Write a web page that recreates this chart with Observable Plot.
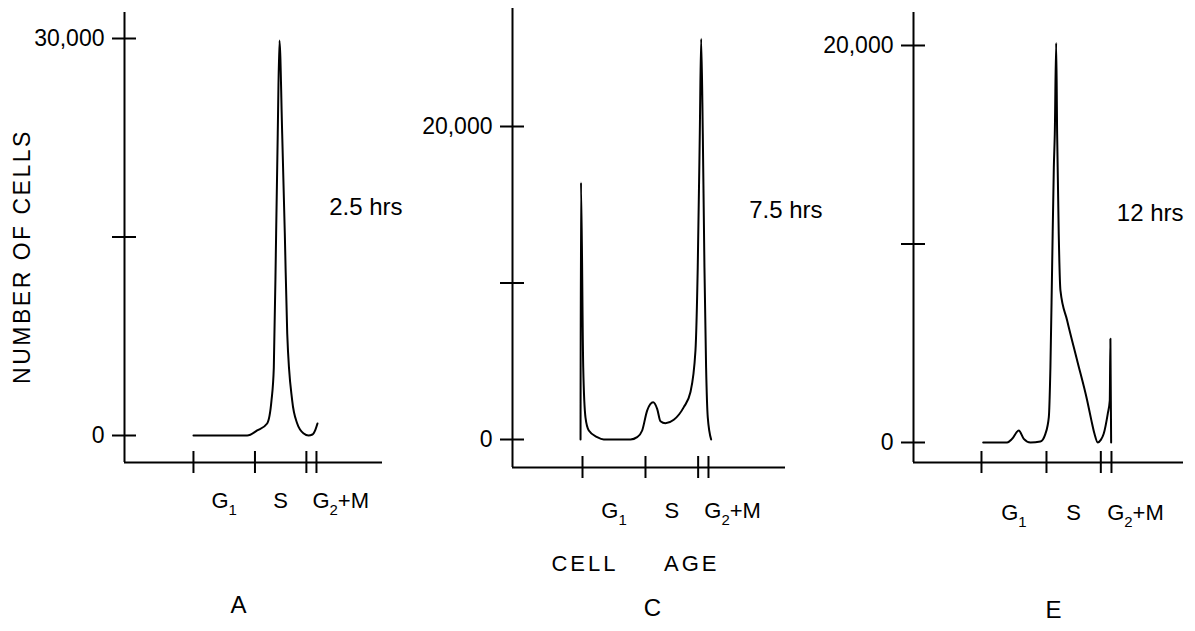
<!DOCTYPE html>
<html>
<head>
<meta charset="utf-8">
<script src="https://cdn.jsdelivr.net/npm/d3@7"></script>
<script src="https://cdn.jsdelivr.net/npm/@observablehq/plot@0.6"></script>
<style>
  html, body { margin: 0; padding: 0; background: #fff; }
  #chart { position: relative; width: 1195px; height: 631px; overflow: hidden; background: #fff; }
  #chart svg { position: absolute; top: 0; }
</style>
</head>
<body>
<div id="chart"></div>
<script>
// ---------- DATA ----------
const phaseTicks = [0, 6.1, 11.2, 12.2];          // cell-age boundaries (G1 | S | G2+M)
const phaseLabels = ["G₁", "S", "G₂+M"];
const panelLetters = ["A", "C", "E"];
const durations = ["2.5 hrs", "7.5 hrs", "12 hrs"];
const yAxisTitle = "NUMBER OF CELLS";
const xAxisTitle = "CELL\u00a0\u00a0\u00a0\u00a0\u00a0AGE";

const yTicksA = [0, 15000, 30000];
const yTickLabelsA = ["0", "", "30,000"];
const yTicksC = [0, 10000, 20000];
const yTickLabelsC = ["0", "", "20,000"];
const yTicksE = [0, 10000, 20000];
const yTickLabelsE = ["0", "", "20,000"];

const ageA   = [0, 5.33, 6.32, 7.31, 7.74, 7.97, 8.20, 8.36, 8.53, 8.80, 9.06, 9.30, 9.79, 10.29, 10.94, 11.41, 11.8, 12.1, 12.3];
const cellsA = [0, 0, 380, 910, 2650, 5140, 15270, 22820, 29850, 22820, 15270, 7710, 2650, 910, 150, 0, 75, 450, 910];

const ageC   = [-0.19, -0.15, 0.07, 0.29, 0.61, 1.42, 2.06, 4.65, 5.29, 5.78, 6.26, 6.84, 7.23, 7.55, 8.03, 8.84, 9.81, 10.45, 10.94, 11.16, 11.36, 11.49, 11.65, 11.81, 11.97, 12.13, 12.46];
const cellsC = [0, 16420, 4600, 1400, 575, 150, 0, 0, 150, 575, 1850, 2380, 1960, 1170, 1040, 1260, 2070, 3020, 5690, 10990, 19550, 25600, 19550, 10990, 4600, 1430, 0];

const ageE   = [0.16, 2.41, 2.88, 3.50, 3.97, 4.60, 5.53, 6.00, 6.32, 6.47, 6.63, 6.79, 6.88, 7.01, 7.10, 7.25, 7.41, 8.04, 8.98, 9.92, 10.30, 10.60, 10.91, 11.20, 11.47, 11.85, 12.04, 12.10, 12.17];
const cellsE = [0, 0, 185, 605, 185, 0, 50, 437, 1275, 3795, 8830, 13870, 15550, 20120, 15550, 10530, 7660, 6150, 4130, 2115, 1150, 450, 0, 130, 437, 1445, 2115, 5225, 0];

// ---------- LAYOUT / STYLE ----------
const FONT = "Liberation Sans";
const panels = [
  { ages: ageA, cells: cellsA, yTicks: yTicksA, yLabels: yTickLabelsA,
    left: 0, width: 420, mL: 124, mR: 38, mT: 12, mB: 169,
    xDom: [-6.84, 18.75], yDom: [-2040, 31965],
    phaseDy: 38, durDx: 20, durDy: 195, letterDx: 114, letterDy: 143 },
  { ages: ageC, cells: cellsC, yTicks: yTicksC, yLabels: yTickLabelsC,
    left: 420, width: 400, mL: 92, mR: 35, mT: 8, mB: 164,
    xDom: [-6.78, 19.66], yDom: [-1789, 27540],
    phaseDy: 43, durDx: 37, durDy: 202, letterDx: 140, letterDy: 141 },
  { ages: ageE, cells: cellsE, yTicks: yTicksE, yLabels: yTickLabelsE,
    left: 820, width: 375, mL: 93, mR: 12, mT: 12, mB: 169,
    xDom: [-6.38, 18.96], yDom: [-1008, 21662],
    phaseDy: 50, durDx: 0, durDy: 201, letterDx: 140, letterDy: 148 }
];

const subMap = { "₁": "1", "₂": "2" };
function applySubscripts(t) {
  const s = t.textContent;
  if (![...s].some(c => subMap[c])) return;
  t.textContent = "";
  let lowered = false;
  for (const ch of s) {
    const ts = document.createElementNS("http://www.w3.org/2000/svg", "tspan");
    if (subMap[ch]) {
      ts.textContent = subMap[ch];
      ts.setAttribute("font-size", "68%");
      if (!lowered) ts.setAttribute("dy", "7");
      lowered = true;
    } else {
      ts.textContent = ch;
      if (lowered) { ts.setAttribute("dy", "-7"); lowered = false; }
    }
    t.appendChild(ts);
  }
}

const chart = document.getElementById("chart");

panels.forEach((p, k) => {
  const rows = p.ages.map((a, i) => ({ age: a, cells: p.cells[i] }));
  const labelOf = new Map(p.yTicks.map((t, i) => [t, p.yLabels[i]]));
  const marks = [
    Plot.ruleX([p.xDom[0]], { strokeWidth: 2 }),
    Plot.ruleY([p.yDom[0]], { strokeWidth: 2 }),
    Plot.ruleY(p.yTicks, { x1: p.xDom[0], x2: p.xDom[0], insetLeft: -12, insetRight: -12, strokeWidth: 2 }),
    Plot.ruleX(phaseTicks, { y1: p.yDom[0], y2: p.yDom[0], insetTop: -11, insetBottom: -11, strokeWidth: 2 }),
    Plot.axisY(p.yTicks, { tickSize: 0, tickPadding: 20, tickFormat: d => labelOf.get(d), fontSize: 23, label: null }),
    Plot.text(phaseLabels.slice(0, 2), {
      x: (d, i) => (phaseTicks[i] + phaseTicks[i + 1]) / 2,
      frameAnchor: "bottom", dy: p.phaseDy, textAnchor: "middle", lineAnchor: "middle", fontSize: 22
    }),
    Plot.text(phaseLabels.slice(2), {
      x: () => (phaseTicks[2] + phaseTicks[3]) / 2,
      frameAnchor: "bottom", dy: p.phaseDy, dx: 1, textAnchor: "start", lineAnchor: "middle", fontSize: 22
    }),
    Plot.text([durations[k]], { frameAnchor: "top-right", dx: p.durDx, dy: p.durDy, textAnchor: "end", lineAnchor: "middle", fontSize: 24 }),
    Plot.text([panelLetters[k]], { frameAnchor: "bottom-left", dx: p.letterDx, dy: p.letterDy, textAnchor: "middle", lineAnchor: "middle", fontSize: 24 }),
    Plot.line(rows, { x: "age", y: "cells", curve: "monotone-x", strokeWidth: 2, strokeLinejoin: "round" })
  ];
  if (k === 0) {
    marks.push(Plot.text([yAxisTitle], { frameAnchor: "left", rotate: -90, dx: -102, dy: 19, textAnchor: "middle", lineAnchor: "middle", fontSize: 23 }));
  }
  if (k === 1) {
    marks.push(Plot.text([xAxisTitle], { frameAnchor: "bottom-left", dx: 123, dy: 96, textAnchor: "middle", lineAnchor: "middle", fontSize: 22 }));
  }
  const svg = Plot.plot({
    width: p.width, height: 631,
    marginLeft: p.mL, marginRight: p.mR, marginTop: p.mT, marginBottom: p.mB,
    x: { domain: p.xDom, axis: null },
    y: { domain: p.yDom },
    style: { fontFamily: FONT, fontSize: "22px", background: "transparent", overflow: "visible", color: "#000" },
    marks
  });
  svg.style.left = p.left + "px";
  svg.querySelectorAll("text").forEach(t => {
    if (t.textContent === yAxisTitle) t.style.letterSpacing = "2.5px";
    if (t.textContent === xAxisTitle) t.style.letterSpacing = "3px";
    applySubscripts(t);
  });
  chart.appendChild(svg);
});
</script>
</body>
</html>
